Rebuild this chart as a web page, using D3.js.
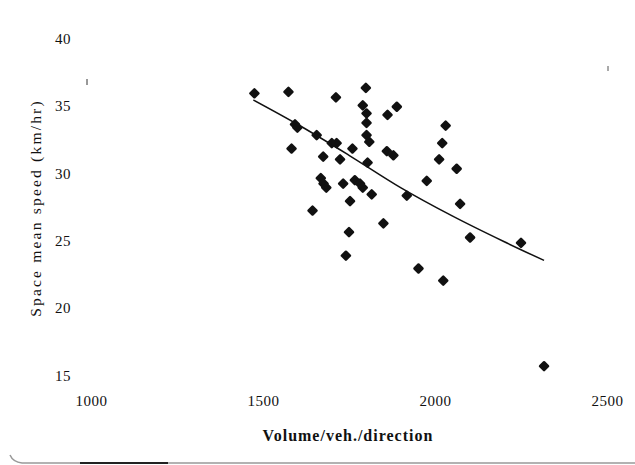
<!DOCTYPE html>
<html>
<head>
<meta charset="utf-8">
<script src="https://cdn.jsdelivr.net/npm/d3@7"></script>
<style>
  body { margin: 0; background: #fff; }
  svg { display: block; }
</style>
</head>
<body>
<div id="chart"></div>
<script>
// scatter values: volume (veh/direction) and speed (km/hr)
const volume = [
  1475, 1574, 1712, 1799, 1790, 1801, 1889, 1862, 1801, 1801,
  1809, 1593, 1600, 1656, 1700, 1714, 1583, 1760, 1860, 1879,
  1675, 1724, 1804, 1668, 1676, 1684, 1733, 1767, 1782, 1790,
  1816, 1753, 2031, 2021, 2012, 2063, 1976, 1918, 1644, 1850,
  1750, 1741, 2073, 2102, 2250, 1952, 2024, 2317
];
const speed = [
  35.9, 36.0, 35.6, 36.3, 35.0, 34.4, 34.9, 34.3, 33.7, 32.8,
  32.3, 33.6, 33.35, 32.8, 32.2, 32.2, 31.8, 31.8, 31.6, 31.3,
  31.2, 31.0, 30.75, 29.6, 29.2, 28.9, 29.2, 29.45, 29.2, 28.9,
  28.4, 27.9, 33.5, 32.2, 31.0, 30.3, 29.4, 28.3, 27.2, 26.25,
  25.6, 23.85, 27.7, 25.2, 24.8, 22.9, 22.0, 15.65
];

// fitted curve, sampled off the figure
const fitVolume = [1472, 1600, 1750, 1900, 2050, 2200, 2317];
const fitSpeed = [35.4, 33.6, 31.3, 28.9, 26.8, 24.9, 23.5];

const xTicks = [1000, 1500, 2000, 2500];
const yTicks = [15, 20, 25, 30, 35, 40];

const width = 635, height = 465;

const svg = d3.select('#chart').append('svg')
    .attr('width', width)
    .attr('height', height);

const x = d3.scaleLinear().domain([1000, 2500]).range([91, 607]);
const y = d3.scaleLinear().domain([15, 40]).range([375, 38]);

const serif = '"Liberation Serif", "DejaVu Serif", serif';

// x axis (labels only)
const gx = svg.append('g')
    .attr('transform', 'translate(0,406)')
    .call(d3.axisBottom(x).tickValues(xTicks).tickSize(0).tickFormat(d3.format('d')));
gx.select('.domain').remove();
gx.selectAll('text')
    .attr('y', 0).attr('dy', 0)
    .attr('fill', '#111')
    .style('font-family', serif)
    .style('font-size', '15px')
    .style('letter-spacing', '0.5px');

// y axis (labels only)
const gy = svg.append('g')
    .attr('transform', 'translate(55,0)')
    .call(d3.axisLeft(y).tickValues(yTicks).tickSize(0));
gy.select('.domain').remove();
gy.selectAll('text')
    .attr('x', 0).attr('dy', '0.35em')
    .attr('text-anchor', 'start')
    .attr('fill', '#111')
    .style('font-family', serif)
    .style('font-size', '15px')
    .style('letter-spacing', '0.5px');

// axis titles
svg.append('text')
    .attr('x', 348).attr('y', 441)
    .attr('text-anchor', 'middle')
    .attr('fill', '#111')
    .style('font-family', serif)
    .style('font-size', '16px')
    .style('font-weight', 'bold')
    .style('letter-spacing', '1px')
    .text('Volume/veh./direction');

svg.append('text')
    .attr('transform', 'translate(41,208) rotate(-90)')
    .attr('text-anchor', 'middle')
    .attr('fill', '#111')
    .style('font-family', serif)
    .style('font-size', '15.5px')
    .style('letter-spacing', '2.2px')
    .text('Space mean speed (km/hr)');

// stray frame marks left in the scan
svg.append('line').attr('x1', 87).attr('x2', 87).attr('y1', 79).attr('y2', 85)
    .attr('stroke', '#333').attr('stroke-width', 1);
svg.append('line').attr('x1', 608).attr('x2', 608).attr('y1', 66).attr('y2', 71)
    .attr('stroke', '#555').attr('stroke-width', 1);

// fitted curve
const fit = fitVolume.map((v, i) => [v, fitSpeed[i]]);
svg.append('path')
    .datum(fit)
    .attr('fill', 'none')
    .attr('stroke', '#111')
    .attr('stroke-width', 1.5)
    .attr('d', d3.line().x(d => x(d[0])).y(d => y(d[1])).curve(d3.curveMonotoneX));

// points: rounded diamonds
const pts = volume.map((v, i) => ({ v, s: speed[i] }));
svg.append('g')
    .selectAll('path')
    .data(pts)
    .join('path')
    .attr('transform', d => `translate(${x(d.v)},${y(d.s)}) rotate(45)`)
    .attr('d', d3.symbol().type(d3.symbolSquare).size(32))
    .attr('fill', '#111')
    .attr('stroke', '#111')
    .attr('stroke-width', 2.5)
    .attr('stroke-linejoin', 'round');

// page edge line along the bottom
svg.append('path')
    .attr('d', 'M10,455 Q13,462 22,463 L635,463')
    .attr('fill', 'none')
    .attr('stroke', '#999')
    .attr('stroke-width', 1.5);
svg.append('line').attr('x1', 80).attr('x2', 168).attr('y1', 463).attr('y2', 463)
    .attr('stroke', '#222').attr('stroke-width', 2);
</script>
</body>
</html>
